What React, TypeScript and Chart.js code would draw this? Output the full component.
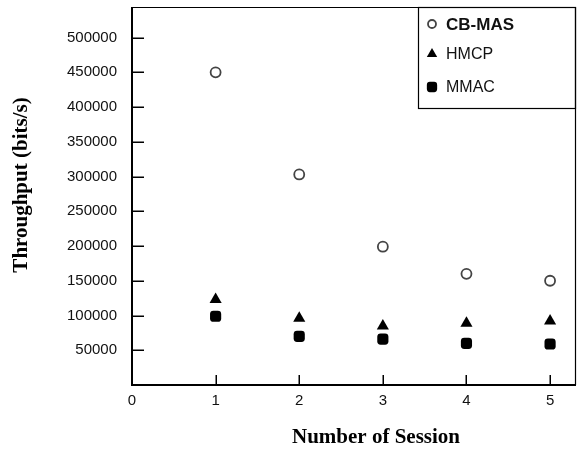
import React, { useEffect, useRef } from 'react';
import { Chart, registerables } from 'chart.js';
import { drawPoint } from 'chart.js/helpers';

Chart.register(...registerables);

const sessions = [1, 2, 3, 4, 5];
const cbMas = [450000, 303000, 199000, 160000, 150000];
const hmcp = [123000, 96000, 85000, 89000, 92000];
const mmac = [99000, 70000, 66000, 60000, 59000];
const seriesNames = ['CB-MAS', 'HMCP', 'MMAC'];
const xTicks = [0, 1, 2, 3, 4, 5];
const yTicks = [50000, 100000, 150000, 200000, 250000, 300000, 350000, 400000, 450000, 500000];
const xTitle = 'Number of Session';
const yTitle = 'Throughput (bits/s)';

const tickFont = '"Liberation Sans", Arial, sans-serif';
const titleFont = '"Liberation Serif", "Times New Roman", serif';
const legendFont = '"Liberation Sans", Arial, sans-serif';

const frame = {
  id: 'frame',
  afterDraw(chart: any) {
    const { ctx, chartArea: a, scales } = chart;
    ctx.save();
    ctx.strokeStyle = '#000';
    ctx.lineWidth = 1.2;
    ctx.beginPath();
    ctx.moveTo(a.left, a.top + 0.5);
    ctx.lineTo(a.right - 0.5, a.top + 0.5);
    ctx.lineTo(a.right - 0.5, a.bottom);
    ctx.stroke();
    ctx.lineWidth = 2;
    ctx.beginPath();
    ctx.moveTo(a.left, a.top);
    ctx.lineTo(a.left, a.bottom);
    ctx.lineTo(a.right, a.bottom);
    ctx.stroke();
    ctx.lineWidth = 1.5;
    ctx.beginPath();
    scales.y.ticks.forEach((t: any) => {
      if (t.value === 0) return;
      const y = Math.round(scales.y.getPixelForValue(t.value)) + 0.25;
      ctx.moveTo(a.left, y);
      ctx.lineTo(a.left + 12, y);
    });
    scales.x.ticks.forEach((t: any) => {
      if (t.value === 0) return;
      const x = Math.round(scales.x.getPixelForValue(t.value)) + 0.25;
      ctx.moveTo(x, a.bottom);
      ctx.lineTo(x, a.bottom - 10);
    });
    ctx.stroke();

    ctx.fillStyle = '#000';
    ctx.font = `bold 21px ${titleFont}`;
    ctx.textAlign = 'center';
    ctx.textBaseline = 'middle';
    ctx.fillText(xTitle, 376, 438);
    ctx.save();
    ctx.translate(22, 185);
    ctx.rotate(-Math.PI / 2);
    ctx.fillText(yTitle, 0, 0);
    ctx.restore();

    const bl = a.right - 158;
    const bt = a.top;
    ctx.lineWidth = 1.2;
    ctx.strokeRect(bl + 0.5, bt + 0.5, a.right - bl - 1, 101);
    const rows = [17, 47, 80];
    chart.data.datasets.forEach((ds: any, i: number) => {
      const cy = bt + rows[i];
      ctx.save();
      ctx.fillStyle = ds.backgroundColor;
      ctx.strokeStyle = ds.borderColor;
      ctx.lineWidth = ds.borderWidth;
      drawPoint(ctx, { pointStyle: ds.pointStyle, rotation: 0, radius: ds.legendRadius, borderWidth: ds.borderWidth }, bl + 14, cy);
      ctx.restore();
      ctx.fillStyle = '#111';
      ctx.textAlign = 'left';
      ctx.textBaseline = 'middle';
      ctx.font = (i === 0 ? 'bold 17px ' : '16px ') + legendFont;
      ctx.fillText(ds.label, bl + 28, cy + 1);
    });
    ctx.restore();
  },
};

export default function App() {
  const ref = useRef<HTMLCanvasElement>(null);
  useEffect(() => {
    if (!ref.current) return;
    const mk = (arr: number[]) => sessions.map((s, i) => ({ x: s, y: arr[i] }));
    const chart = new Chart(ref.current, {
      type: 'scatter',
      data: {
        datasets: [
          {
            label: seriesNames[0],
            data: mk(cbMas),
            pointStyle: 'circle',
            pointRadius: 5,
            backgroundColor: '#fff',
            borderColor: '#444',
            borderWidth: 1.8,
            legendRadius: 4,
          } as any,
          {
            label: seriesNames[1],
            data: mk(hmcp),
            pointStyle: 'triangle',
            pointRadius: 7,
            backgroundColor: '#000',
            borderColor: '#000',
            borderWidth: 0,
            legendRadius: 6,
          } as any,
          {
            label: seriesNames[2],
            data: mk(mmac),
            pointStyle: 'rectRounded',
            pointRadius: 6.5,
            backgroundColor: '#000',
            borderColor: '#000',
            borderWidth: 0,
            legendRadius: 6,
          } as any,
        ],
      },
      options: {
        responsive: false,
        animation: false,
        devicePixelRatio: 1,
        layout: { padding: { left: 0, top: 7, right: 6, bottom: 0 } },
        plugins: { legend: { display: false }, tooltip: { enabled: false } },
        scales: {
          x: {
            type: 'linear',
            min: 0,
            max: 5.31,
            afterFit: (s: any) => { s.height = 66; s.paddingLeft = 0; s.paddingRight = 0; },
            afterBuildTicks: (s: any) => { s.ticks = xTicks.map((v) => ({ value: v })); },
            grid: { display: false, drawTicks: false },
            border: { display: false },
            ticks: {
              padding: 7,
              color: '#111',
              font: { family: tickFont, size: 15 },
              callback: (v: any) => String(v),
            },
          },
          y: {
            type: 'linear',
            min: 0,
            max: 544000,
            afterFit: (s: any) => { s.width = 132; s.paddingTop = 0; s.paddingBottom = 0; },
            afterBuildTicks: (s: any) => { s.ticks = yTicks.map((v) => ({ value: v })); },
            grid: { display: false, drawTicks: false },
            border: { display: false },
            ticks: {
              padding: 15,
              color: '#111',
              font: { family: tickFont, size: 15 },
              callback: (v: any) => String(v),
            },
          },
        },
      },
      plugins: [frame],
    });
    return () => chart.destroy();
  }, []);
  return (
    <div style={{ position: 'absolute', left: 0, top: 0, width: 583, height: 451, background: '#fff' }}>
      <canvas ref={ref} width={583} height={451} />
    </div>
  );
}
